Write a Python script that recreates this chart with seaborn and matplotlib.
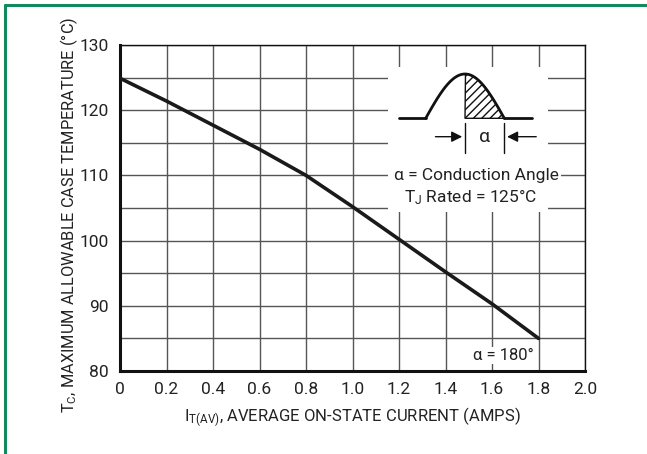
import numpy as np
import pandas as pd
import seaborn as sns
import matplotlib.pyplot as plt
from matplotlib.lines import Line2D
from matplotlib.patches import Rectangle, Polygon

# Data (alpha = 180 deg)
current = [0.0, 0.2, 0.4, 0.6, 0.8, 1.0, 1.2, 1.4, 1.6, 1.8]
case_temp = [124.9, 121.4, 117.7, 114.0, 110.0, 105.2, 100.2, 95.2, 90.3, 85.0]
x_ticks = [0, 0.2, 0.4, 0.6, 0.8, 1.0, 1.2, 1.4, 1.6, 1.8, 2.0]
x_tick_labels = ["0", "0.2", "0.4", "0.6", "0.8", "1.0", "1.2", "1.4", "1.6", "1.8", "2.0"]
y_ticks = [80, 90, 100, 110, 120, 130]

df = pd.DataFrame({"current": current, "temp": case_temp})

sns.set_style("white")
plt.rcParams['font.family'] = ['Roboto', 'DejaVu Sans']
plt.rcParams['mathtext.default'] = 'regular'

fig = plt.figure(figsize=(6.47, 4.54), dpi=100)
ax = fig.add_axes([0.1855, 0.1828, 0.7187, 0.7181])

sns.lineplot(data=df, x="current", y="temp", ax=ax, color="#1a1a1a",
             linewidth=2.6, zorder=5)

ax.set_xlim(0, 2.0)
ax.set_ylim(80, 130)
ax.set_xticks(x_ticks)
ax.set_xticklabels(x_tick_labels)
ax.set_yticks(y_ticks)
ax.set_yticks(np.arange(85, 130, 10), minor=True)
ax.grid(True, which="both", color="#555555", linewidth=1.0, zorder=0)
ax.set_axisbelow(True)
ax.tick_params(axis="both", which="both", length=0, labelsize=12.5, pad=8,
               labelcolor="#222222")

for side in ["left", "bottom"]:
    ax.spines[side].set_linewidth(2.2)
    ax.spines[side].set_color("#111111")
for side in ["top", "right"]:
    ax.spines[side].set_linewidth(1.0)
    ax.spines[side].set_color("#111111")

ax.set_xlabel("I$_{T(AV)}$, AVERAGE ON-STATE CURRENT (AMPS)", fontsize=12,
              labelpad=6, color="#222222")
ax.set_ylabel("T$_C$, MAXIMUM ALLOWABLE CASE TEMPERATURE (°C)", fontsize=11.8,
              color="#222222")
ax.yaxis.set_label_coords(-0.085, 0.48)

# white patch that hides the grid behind the waveform sketch
ax.add_patch(Rectangle((1.153, 104.4), 0.688, 22.2, facecolor="white",
                       edgecolor="none", zorder=2))

ax.text(1.535, 110.0, "α = Conduction Angle", fontsize=12.5, ha="center",
        va="center", zorder=3, color="#222222",
        bbox=dict(facecolor="white", edgecolor="none", pad=1))
ax.text(1.51, 106.6, "T$_J$ Rated = 125°C", fontsize=12.5, ha="center",
        va="center", zorder=3, color="#222222",
        bbox=dict(facecolor="white", edgecolor="none", pad=1))
ax.text(1.65, 82.4, "α = 180°", fontsize=12, ha="center", va="center",
        zorder=3, color="#222222",
        bbox=dict(facecolor="white", edgecolor="none", pad=1))

# waveform sketch (inset, pixel-like coordinates)
ins = fig.add_axes([395 / 647, 1 - 158 / 454, 150 / 647, 90 / 454])
ins.set_xlim(395, 545)
ins.set_ylim(158, 68)
ins.axis("off")
t = np.linspace(0, np.pi, 80)
hx = 425.7 + (504.3 - 425.7) * t / np.pi
hy = 118.3 - (118.3 - 74) * np.sin(t)
ins.plot([399, 425.7], [118.3, 118.3], color="#111111", lw=2)
ins.plot(hx, hy, color="#111111", lw=2)
ins.plot([504.3, 531.7], [118.3, 118.3], color="#111111", lw=2)
half = t >= np.pi / 2
poly = np.column_stack([np.r_[hx[half], 465.0], np.r_[hy[half], 118.3]])
ins.add_patch(Polygon(poly, closed=True, facecolor="none", edgecolor="#111111",
                      hatch="////", linewidth=1.0))
ins.plot([465, 465], [123, 152.7], color="#111111", lw=1)
ins.plot([504.3, 504.3], [123, 152.7], color="#111111", lw=1)
ins.annotate("", xy=(465, 136.7), xytext=(432.7, 136.7),
             arrowprops=dict(arrowstyle="-|>", color="#111111", lw=1,
                             mutation_scale=16))
ins.annotate("", xy=(504.3, 136.7), xytext=(539, 136.7),
             arrowprops=dict(arrowstyle="-|>", color="#111111", lw=1,
                             mutation_scale=16))
ins.text(485, 136.7, "α", fontsize=14, ha="center", va="center", color="#222222")

# green frame on top and left
fig.add_artist(Line2D([5 / 647, 1], [1 - 5 / 454, 1 - 5 / 454],
                      transform=fig.transFigure, color="#138a5e", lw=2.2))
fig.add_artist(Line2D([5 / 647, 5 / 647], [0, 1 - 5 / 454],
                      transform=fig.transFigure, color="#138a5e", lw=2.2))

fig.savefig("out.png", dpi=100)
